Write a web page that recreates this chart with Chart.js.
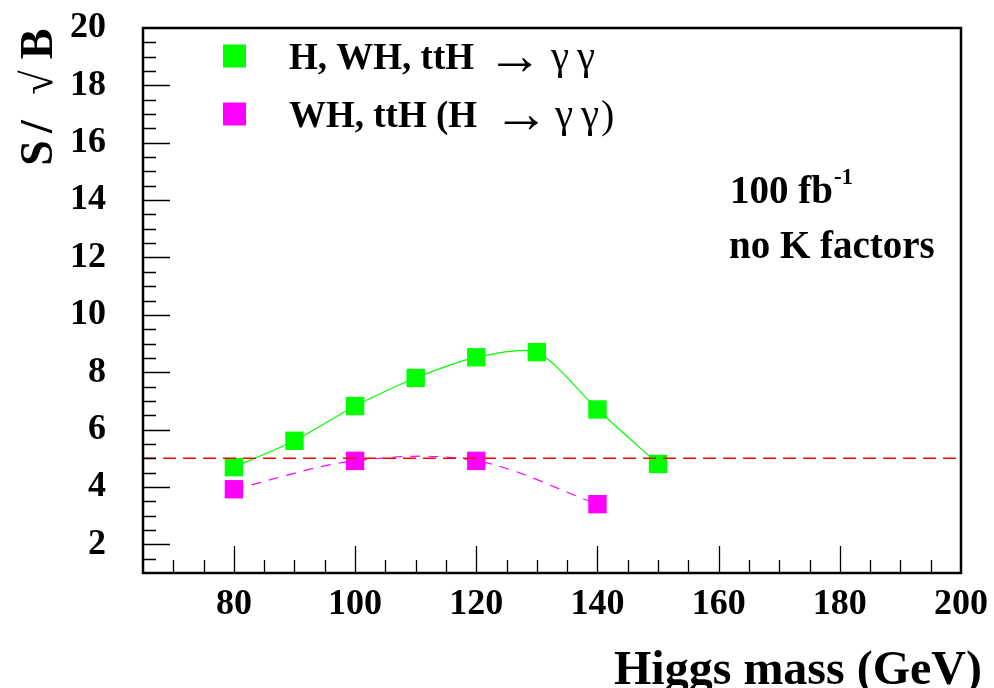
<!DOCTYPE html>
<html><head><meta charset="utf-8">
<script src="https://cdn.jsdelivr.net/npm/chart.js@4/dist/chart.umd.min.js"></script>
<style>html,body{margin:0;padding:0;background:#fff;}#wrap{width:994px;height:688px;}</style>
</head><body><div id="wrap"><canvas id="c" width="994" height="688"></canvas></div>
<script>
// ---- data ----
const massAll = [80, 90, 100, 110, 120, 130, 140, 150];
const signifAll = [4.69, 5.61, 6.82, 7.80, 8.52, 8.70, 6.70, 4.80];
const massAssoc = [80, 100, 120, 140];
const signifAssoc = [3.92, 4.91, 4.91, 3.40];
const thresholdMass = [65, 200];
const thresholdSignif = [5, 5];
const xTickLabels = [80, 100, 120, 140, 160, 180, 200];
const yTickLabels = [2, 4, 6, 8, 10, 12, 14, 16, 18, 20];
const xRange = [65, 200];
const yRange = [1, 20];
const seriesLabels = ['H, WH, ttH', 'WH, ttH (H'];
const xTitle = 'Higgs mass (GeV)';
const lumiText = '100 fb';
const lumiSup = '-1';
const kText = 'no K factors';

const SERIF = "'Liberation Serif', 'Times New Roman', serif";
const GREEN = '#00ff00', MAGENTA = '#ff00ff', RED = '#ff0000';

const pts = (xs, ys) => xs.map((x, i) => ({x: x, y: ys[i]}));

const decor = {
  id: 'decor',
  afterDraw(chart) {
    const ctx = chart.ctx, a = chart.chartArea;
    const xs = chart.scales.x, ys = chart.scales.y;
    ctx.save();
    // tick marks (inward)
    ctx.strokeStyle = '#000';
    ctx.lineWidth = 1.3;
    ctx.beginPath();
    for (let v = xRange[0] + 5; v < xRange[1]; v += 5) {
      const px = Math.round(xs.getPixelForValue(v)) + 0.5;
      const len = (v % 20 === 0) ? 27 : 13;
      ctx.moveTo(px, a.bottom); ctx.lineTo(px, a.bottom - len);
    }
    for (let v = yRange[0] + 0.5; v < yRange[1]; v += 0.5) {
      const py = Math.round(ys.getPixelForValue(v)) + 0.5;
      const len = (v % 2 === 0) ? 27 : 13;
      ctx.moveTo(a.left, py); ctx.lineTo(a.left + len, py);
    }
    ctx.stroke();
    // frame
    ctx.lineWidth = 2.5;
    ctx.strokeRect(a.left, a.top, a.right - a.left, a.bottom - a.top);

    ctx.fillStyle = '#000';
    ctx.textBaseline = 'alphabetic';
    // x title
    ctx.font = "bold 48px " + SERIF;
    ctx.textAlign = 'right';
    ctx.fillText(xTitle, a.right + 21, 684);
    // y title (rotated pieces)
    ctx.save();
    ctx.translate(52, 0);
    ctx.rotate(-Math.PI / 2);
    ctx.textAlign = 'center';
    ctx.font = "bold 46px " + SERIF;
    ctx.fillText('S', -153, 0);
    ctx.fillText('/', -126.5, 0);
    ctx.fillText('B', -44, 0);
    ctx.font = "44px " + SERIF;
    ctx.fillText('\u221A', -82.5, 0);
    ctx.restore();

    // legend
    const rows = [
      {color: GREEN, y: 56, label: seriesLabels[0], arrow: 514.5, g1: 560, g2: 586, close: null},
      {color: MAGENTA, y: 114, label: seriesLabels[1], arrow: 521, g1: 564, g2: 590, close: 601}
    ];
    rows.forEach(r => {
      ctx.fillStyle = r.color;
      ctx.fillRect(223, r.y - 11.5, 23, 23);
      ctx.fillStyle = '#000';
      const base = r.y + 12.5;
      ctx.textAlign = 'left';
      ctx.font = "bold 37px " + SERIF;
      ctx.fillText(r.label, 289, base);
      ctx.textAlign = 'center';
      ctx.font = "56px " + SERIF;
      ctx.fillText('\u2192', r.arrow, r.y + 4 + 0.25 * 56);
      ctx.font = "41px " + SERIF;
      ctx.fillText('\u03B3', r.g1, base);
      ctx.fillText('\u03B3', r.g2, base);
      ctx.textAlign = 'left';
      if (r.close) { ctx.font = "40px " + SERIF; ctx.fillText(')', r.close, base + 1); }
    });

    // annotation
    ctx.textAlign = 'left';
    ctx.font = "bold 39px " + SERIF;
    ctx.fillText(lumiText, 730, 203);
    const w = ctx.measureText(lumiText).width;
    ctx.font = "bold 23px " + SERIF;
    ctx.fillText(lumiSup, 730 + w + 1, 184);
    ctx.font = "bold 39px " + SERIF;
    ctx.fillText(kText, 729, 258);
    ctx.restore();
  }
};

new Chart(document.getElementById('c'), {
  type: 'line',
  data: {
    datasets: [
      {
        label: '5 sigma',
        data: pts(thresholdMass, thresholdSignif),
        borderColor: RED, borderWidth: 1.6, borderDash: [13, 7],
        pointRadius: 0, tension: 0, order: 0
      },
      {
        label: seriesLabels[0],
        data: pts(massAll, signifAll),
        borderColor: GREEN, borderWidth: 1.2, tension: 0.25,
        pointStyle: 'rect', pointRadius: 13, pointBackgroundColor: GREEN,
        pointBorderWidth: 0, order: 1
      },
      {
        label: seriesLabels[1],
        data: pts(massAssoc, signifAssoc),
        borderColor: MAGENTA, borderWidth: 1.2, borderDash: [10, 8], tension: 0.35,
        pointStyle: 'rect', pointRadius: 13, pointBackgroundColor: MAGENTA,
        pointBorderWidth: 0, order: 2
      }
    ]
  },
  options: {
    responsive: false,
    animation: false,
    devicePixelRatio: 1,
    layout: {padding: {top: 28, right: 33, left: 0, bottom: 0}},
    plugins: {legend: {display: false}, tooltip: {enabled: false}},
    scales: {
      x: {
        type: 'linear', min: xRange[0], max: xRange[1],
        grid: {display: false, drawTicks: false}, border: {display: false},
        ticks: {color: '#000', font: {family: SERIF, weight: 'bold', size: 36}, padding: 10, maxRotation: 0, autoSkip: false},
        afterBuildTicks: s => { s.ticks = xTickLabels.map(v => ({value: v})); },
        afterFit: s => { s.height = 115; s.paddingLeft = 0; s.paddingRight = 0; }
      },
      y: {
        type: 'linear', min: yRange[0], max: yRange[1],
        grid: {display: false, drawTicks: false}, border: {display: false},
        ticks: {color: '#000', font: {family: SERIF, weight: 'bold', size: 36}, padding: 37, autoSkip: false},
        afterBuildTicks: s => { s.ticks = yTickLabels.map(v => ({value: v})); },
        afterFit: s => { s.width = 143; s.paddingTop = 0; s.paddingBottom = 0; }
      }
    }
  },
  plugins: [decor]
});
</script>
</body></html>
